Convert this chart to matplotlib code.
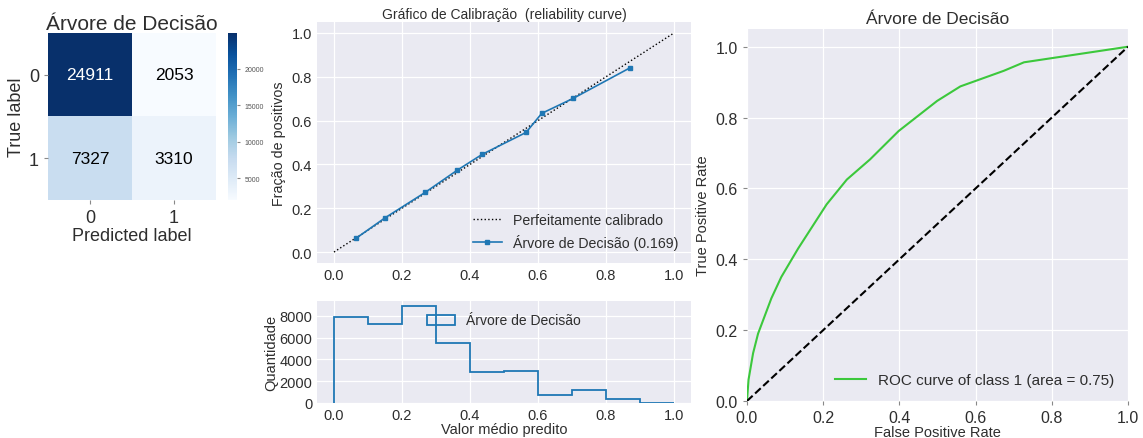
import numpy as np
import matplotlib
matplotlib.use('Agg')
import matplotlib.pyplot as plt
from matplotlib.ticker import MultipleLocator

plt.rcParams['font.family'] = ['Liberation Sans', 'DejaVu Sans']
plt.rcParams['text.color'] = '#2e2e2e'
plt.rcParams['axes.labelcolor'] = '#2e2e2e'
plt.rcParams['xtick.color'] = '#2e2e2e'
plt.rcParams['ytick.color'] = '#2e2e2e'

model = 'Árvore de Decisão'

# matriz de confusao
cm = np.array([[24911, 2053],
               [7327, 3310]])
classes = ['0', '1']

# curva de calibracao
prob_pred = [0.066, 0.150, 0.268, 0.362, 0.436, 0.565, 0.611, 0.703, 0.872]
frac_pos = [0.064, 0.156, 0.272, 0.373, 0.446, 0.546, 0.633, 0.701, 0.842]
brier = 0.169

# histograma das probabilidades
bin_edges = [0.0, 0.1, 0.2, 0.3, 0.4, 0.5, 0.6, 0.7, 0.8, 0.9, 1.0]
bin_counts = [7900, 7250, 8900, 5500, 2850, 2900, 750, 1200, 400, 25]

# curva ROC
fpr = [0.0, 0.004, 0.016, 0.029, 0.064, 0.09, 0.134, 0.209, 0.262, 0.323,
       0.398, 0.499, 0.56, 0.674, 0.727, 1.0]
tpr = [0.0, 0.06, 0.135, 0.19, 0.29, 0.35, 0.43, 0.555, 0.625, 0.682,
       0.762, 0.847, 0.888, 0.932, 0.956, 1.0]
roc_auc = 0.75

W, H = 1143, 439
fig = plt.figure(figsize=(W / 100, H / 100), dpi=100)


def box(l, t, r, b):
    return [l / W, 1 - b / H, (r - l) / W, (b - t) / H]


def style(ax):
    ax.set_facecolor('#eaeaf2')
    ax.grid(True, color='white', linewidth=0.9)
    ax.set_axisbelow(True)
    for s in ax.spines.values():
        s.set_visible(False)


# --- confusion matrix
ax_cm = fig.add_axes(box(48, 34, 216, 201))
im = ax_cm.imshow(cm, cmap='Blues', interpolation='nearest', aspect='auto')
ax_cm.set_title(model, fontsize=15, pad=3)
ax_cm.set_xticks(range(len(classes)))
ax_cm.set_yticks(range(len(classes)))
ax_cm.set_xticklabels(classes, fontsize=13)
ax_cm.set_yticklabels(classes, fontsize=13)
ax_cm.tick_params(length=3, color='#888888')
ax_cm.set_xlabel('Predicted label', fontsize=13, labelpad=1)
ax_cm.set_ylabel('True label', fontsize=13, labelpad=3)
for s in ax_cm.spines.values():
    s.set_visible(False)
thresh = cm.max() / 2.0
for i in range(cm.shape[0]):
    for j in range(cm.shape[1]):
        ax_cm.text(j, i, str(cm[i, j]), ha='center', va='center', fontsize=12.5,
                   color='white' if cm[i, j] > thresh else 'black')

cax = fig.add_axes(box(228, 34, 237, 201))
cb = fig.colorbar(im, cax=cax)
cb.set_ticks([5000, 10000, 15000, 20000])
cb.ax.tick_params(labelsize=5, length=2, color='#888888', labelcolor='#555555')
cb.outline.set_visible(False)

# --- calibration curve
ax_cal = fig.add_axes(box(317, 23, 691, 264))
style(ax_cal)
ax_cal.plot([0, 1], [0, 1], 'k:', linewidth=1, label='Perfeitamente calibrado')
ax_cal.plot(prob_pred, frac_pos, 's-', color='#1f77b4', markersize=3.5,
            linewidth=1.2, label=f'{model} ({brier:.3f})')
ax_cal.set_ylim(-0.05, 1.05)
ax_cal.set_ylabel('Fração de positivos', fontsize=10.3)
ax_cal.set_title('Gráfico de Calibração  (reliability curve)', fontsize=10, pad=3)
ax_cal.legend(loc='lower right', frameon=False, fontsize=10.2)
ax_cal.tick_params(labelsize=10.5, length=0)

# --- histogram
ax_h = fig.add_axes(box(317, 302, 691, 404))
style(ax_h)
ax_h.hist(bin_edges[:-1], bins=bin_edges, weights=bin_counts, histtype='step',
          linewidth=1.3, color='#1f77b4', label=model)
ax_h.yaxis.set_major_locator(MultipleLocator(2000))
ax_h.set_xlabel('Valor médio predito', fontsize=10.5, labelpad=0)
ax_h.set_ylabel('Quantidade', fontsize=10.5, labelpad=1)
ax_h.legend(loc='upper center', ncol=2, frameon=False, fontsize=10)
ax_h.tick_params(labelsize=10.5, length=0)

# --- ROC
ax_roc = fig.add_axes(box(747, 30, 1128, 402))
style(ax_roc)
ax_roc.plot(fpr, tpr, color='#3cc83c', linewidth=1.5,
            label=f'ROC curve of class 1 (area = {roc_auc:.2f})')
ax_roc.plot([0, 1], [0, 1], 'k--', linewidth=1.5)
ax_roc.set_xlim(0.0, 1.0)
ax_roc.set_ylim(0.0, 1.05)
ax_roc.set_title(model, fontsize=12.5, pad=4)
ax_roc.set_xlabel('False Positive Rate', fontsize=10.5, labelpad=0)
ax_roc.set_ylabel('True Positive Rate', fontsize=10.5)
ax_roc.tick_params(labelsize=11.5, length=3, color='#888888')
ax_roc.legend(loc='lower right', frameon=False, fontsize=11)

fig.savefig('out.png', dpi=100)
